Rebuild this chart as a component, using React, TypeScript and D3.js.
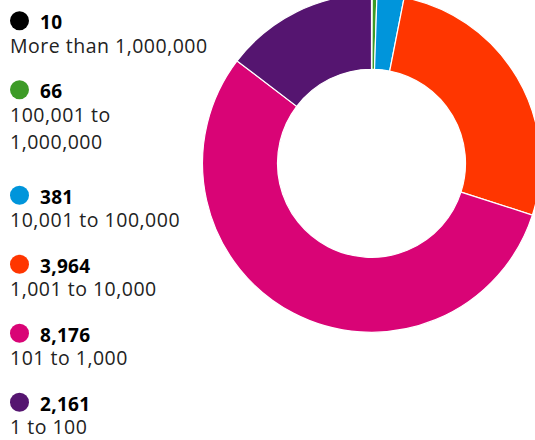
import React, { useEffect } from 'react';
import * as d3 from 'd3';

const counts = [10, 66, 381, 3964, 8176, 2161];
const labels = [
  ['More than 1,000,000'],
  ['100,001 to', '1,000,000'],
  ['10,001 to 100,000'],
  ['1,001 to 10,000'],
  ['101 to 1,000'],
  ['1 to 100'],
];
const colors = ['#000000', '#3d9b27', '#0095db', '#ff3600', '#d90476', '#551570'];

const width = 535;
const height = 440;
const cx = 371.5;
const cy = 163.3;
const outerR = 169;
const innerR = 94;

const App: React.FC = () => {
  useEffect(() => {
    document.body.style.margin = '0';
  }, []);

  const pie = d3.pie<number>().sort(null).value(d => d)(counts);
  const arc = d3.arc<d3.PieArcDatum<number>>().innerRadius(innerR).outerRadius(outerR);
  const fmt = d3.format(',');

  // legend layout: bold value then label lines
  let y = 29.3;
  const items = counts.map((c, i) => {
    const item = { value: c, lines: labels[i], color: colors[i], y };
    y += 69 + (labels[i].length - 1) * 36.5;
    return item;
  });

  const font = '"Open Sans", "Noto Sans", sans-serif';

  return (
    <svg width={width} height={height} style={{ display: 'block' }} fontFamily={font}>
      <g transform={`translate(${cx},${cy})`}>
        {pie.map((d, i) => (
          <path key={i} d={arc(d) || ''} fill={colors[i]} stroke="#fff" strokeWidth={1.2} />
        ))}
      </g>
      <g>
        {items.map((it, i) => (
          <g key={i}>
            <circle cx={19.5} cy={it.y - 8.5} r={9.5} fill={it.color} />
            <text x={40} y={it.y} fontSize={19} fontWeight="bold" fill="#000" letterSpacing={0.3}>
              {fmt(it.value)}
            </text>
            {it.lines.map((l, j) => (
              <text key={j} x={10} y={it.y + 23.6 + j * 27.3} fontSize={19.5} fill="#222" letterSpacing={0.5}>
                {l}
              </text>
            ))}
          </g>
        ))}
      </g>
    </svg>
  );
};

export default App;
